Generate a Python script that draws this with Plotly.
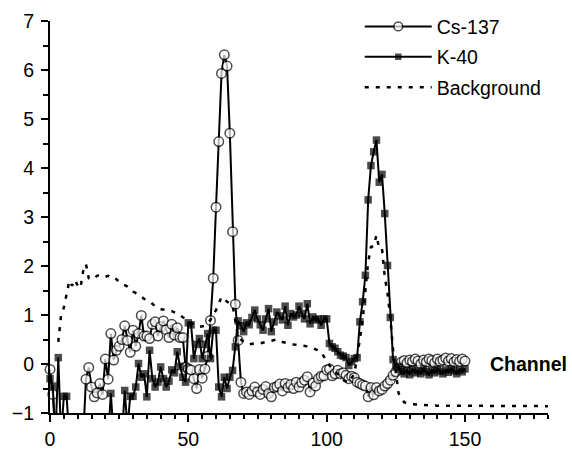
import plotly.graph_objects as go

channels = list(range(151))

cs_137 = [
    -0.11, -0.62, -1.5, -1.5, -1.5, -1.5, -1.5, -1.5, -1.5, -1.5,
    -1.5, -1.5, -1.5, -0.31, -0.07, -0.47, -0.67, -0.59, -0.40, -0.62,
    0.10, -0.31, 0.62, 0.08, 0.28, 0.36, 0.50, 0.78, 0.48, 0.24,
    0.69, 0.36, 0.62, 0.99, 0.57, 0.57, 0.52, 0.81, 0.86, 0.57,
    0.76, 0.88, 0.70, 0.54, 0.81, 0.59, 0.74, 0.54, 0.54, -0.06,
    -0.10, -0.12, -0.30, -0.50, -0.11, -0.29, -0.10, 0.16, 0.89, 1.75,
    3.20, 4.54, 5.93, 6.31, 6.08, 4.71, 2.70, 1.22, 0.48, -0.37,
    -0.60, -0.57, -0.62, -0.55, -0.47, -0.57, -0.62, -0.52, -0.46, -0.60,
    -0.67, -0.48, -0.46, -0.41, -0.55, -0.40, -0.48, -0.42, -0.50, -0.37,
    -0.47, -0.38, -0.33, -0.26, -0.57, -0.39, -0.45, -0.30, -0.25, -0.24,
    -0.12, -0.10, -0.24, -0.20, -0.13, -0.20, -0.18, -0.23, -0.30, -0.25,
    -0.28, -0.37, -0.40, -0.43, -0.45, -0.67, -0.48, -0.63, -0.48, -0.55,
    -0.52, -0.45, -0.40, -0.33, -0.23, -0.16, -0.06, 0.04, 0.07, 0.02,
    0.08, 0.05, 0.10, 0.06, 0.00, 0.08, 0.04, 0.10, 0.07, 0.02,
    0.10, 0.05, 0.08, 0.12, 0.06, 0.11, 0.04, 0.09, 0.05, 0.10,
    0.06,
]

k_40 = [
    -0.30, -0.45, -1.5, 0.13, -1.5, -0.66, -0.66, -1.5, -1.5, -1.5,
    -1.5, -1.5, -1.5, -1.5, -1.5, -1.5, -1.5, -1.5, -1.5, -1.5,
    -1.5, -1.5, -0.60, -1.5, -1.5, -1.5, -1.5, -0.54, -1.3, -0.66,
    -0.66, -0.47, 0.01, -0.27, -0.20, -0.67, 0.28, -0.30, -0.47, -0.37,
    -0.06, -0.30, -0.47, -0.35, -0.12, -0.18, 0.25, -0.05, -0.27, -0.37,
    0.84, 0.80, 0.11, 0.40, 0.52, 0.11, 0.40, 0.62, 0.11, 0.69,
    0.69, -0.47, -0.67, -0.27, -0.50, -0.27, -0.13, 0.35, 0.88, 0.78,
    0.66, 0.84, 0.80, 0.95, 1.10, 0.92, 0.80, 0.69, 0.92, 1.13,
    0.66, 0.86, 1.06, 0.98, 0.90, 1.18, 0.79, 1.03, 0.96, 1.00,
    1.18, 1.03, 0.92, 1.23, 0.82, 0.96, 0.90, 0.92, 0.79, 0.92,
    0.92, 0.42, 0.35, 0.32, 0.25, 0.18, 0.16, 0.13, -0.03, 0.05,
    0.11, 0.13, 0.86, 1.27, 1.81, 3.35, 4.05, 4.33, 4.57, 3.71,
    3.87, 3.07, 2.01, 0.95, 0.09, -0.06, -0.06, -0.15, -0.20, -0.12,
    -0.22, -0.10, -0.18, -0.14, -0.20, -0.10, -0.16, -0.22, -0.12, -0.18,
    -0.10, -0.15, -0.20, -0.12, -0.17, -0.10, -0.14, -0.20, -0.12, -0.16,
    -0.10,
]

bg_channels = [
    3, 4, 5, 6, 7, 8, 9, 10, 11, 12, 13, 14, 15, 16, 17, 18, 19, 20, 21, 22,
    23, 24, 25, 26, 28, 30, 32, 34, 36, 38, 40, 42, 44, 46, 48, 50, 52, 54,
    56, 58, 60, 62, 64, 66, 67, 68, 70, 72, 74, 76, 78, 80, 82, 84, 86, 88,
    90, 92, 94, 96, 98, 100, 102, 104, 106, 108, 110, 112, 113, 114, 115,
    116, 117, 118, 119, 120, 121, 122, 123, 124, 125, 126, 128, 130, 140,
    150, 160, 170, 180,
]
background = [
    0.45, 1.00, 1.15, 1.40, 1.70, 1.60, 1.72, 1.60, 1.55, 1.90, 2.04, 1.75,
    1.72, 1.75, 1.80, 1.82, 1.80, 1.78, 1.80, 1.77, 1.78, 1.72, 1.68, 1.64,
    1.58, 1.48, 1.42, 1.33, 1.28, 1.18, 1.12, 1.10, 1.08, 1.03, 0.95, 0.88,
    0.80, 0.76, 0.78, 0.90, 1.10, 1.37, 1.27, 1.20, 0.90, 0.55, 0.45, 0.40,
    0.42, 0.42, 0.45, 0.48, 0.50, 0.45, 0.42, 0.40, 0.39, 0.37, 0.35, 0.30,
    0.25, 0.05, -0.10, -0.20, -0.33, -0.38, -0.20, 0.50, 0.89, 1.50, 2.08,
    2.39, 2.40, 2.63, 2.35, 2.35, 1.78, 1.44, 0.95, 0.28, -0.20, -0.60,
    -0.78, -0.82, -0.85, -0.85, -0.85, -0.86, -0.86,
]

x_ticks = [0, 50, 100, 150]
y_ticks = [-1, 0, 1, 2, 3, 4, 5, 6, 7]

Y_MIN, Y_MAX = -1, 7

def visible_sizes(values, size):
    return [size if v >= Y_MIN else 0 for v in values]

FONT = "Arial, Liberation Sans, sans-serif"
FS = 19.5

fig = go.Figure()
fig.add_trace(go.Scatter(
    x=channels, y=cs_137, name="Cs-137", mode="lines+markers",
    line=dict(color="black", width=2),
    marker=dict(symbol="circle", size=visible_sizes(cs_137, 9.5), color="white",
                line=dict(color="black", width=1.5)),
    cliponaxis=False, legendgroup="a",
))
fig.add_trace(go.Scatter(
    x=channels, y=k_40, name="K-40", mode="lines+markers",
    line=dict(color="black", width=2),
    marker=dict(symbol="square", size=visible_sizes(k_40, 7.5), color="black",
                line=dict(color="black", width=0)),
    cliponaxis=False, legendgroup="b",
))
fig.add_trace(go.Scatter(
    x=bg_channels, y=background, name="Background", mode="lines",
    line=dict(color="black", width=2.5, dash="4px,7px"),
    legendgroup="c",
))

fig.add_annotation(
    x=158.2, y=0, xref="x", yref="y", text="<b>Channel</b>", showarrow=False,
    xanchor="left", yanchor="middle", font=dict(family=FONT, size=FS, color="black"),
)

fig.update_layout(
    width=572, height=455,
    margin=dict(l=50, r=24, t=21, b=42, autoexpand=False),
    paper_bgcolor="white", plot_bgcolor="white",
    font=dict(family=FONT, size=FS, color="black"),
    showlegend=True,
    legend=dict(
        x=0.622, y=1.035, xanchor="left", yanchor="top",
        bgcolor="rgba(0,0,0,0)", font=dict(family=FONT, size=FS, color="black"),
        traceorder="grouped", tracegroupgap=2, itemwidth=67,
    ),
)
fig.update_xaxes(
    range=[0, 180], showgrid=False, zeroline=False,
    showline=True, linecolor="black", linewidth=2,
    tickmode="array", tickvals=x_ticks, ticks="outside", ticklen=7,
    tickwidth=1.5, tickcolor="black", ticklabelstandoff=1,
    minor=dict(dtick=5, ticks="outside", ticklen=4, tickwidth=1.5, tickcolor="black"),
    tickfont=dict(family=FONT, size=FS, color="black"),
)
fig.update_yaxes(
    range=[Y_MIN, Y_MAX], showgrid=False, zeroline=False,
    showline=True, linecolor="black", linewidth=2,
    tickmode="array", tickvals=y_ticks, ticks="outside", ticklen=7,
    tickwidth=1.5, tickcolor="black", ticklabelstandoff=3,
    minor=dict(dtick=0.5, ticks="outside", ticklen=5, tickwidth=1.5, tickcolor="black"),
    tickfont=dict(family=FONT, size=FS, color="black"),
)

fig.write_html(
    "out.html",
    config={"displayModeBar": False},
    post_script="document.body.style.margin='0';",
)
